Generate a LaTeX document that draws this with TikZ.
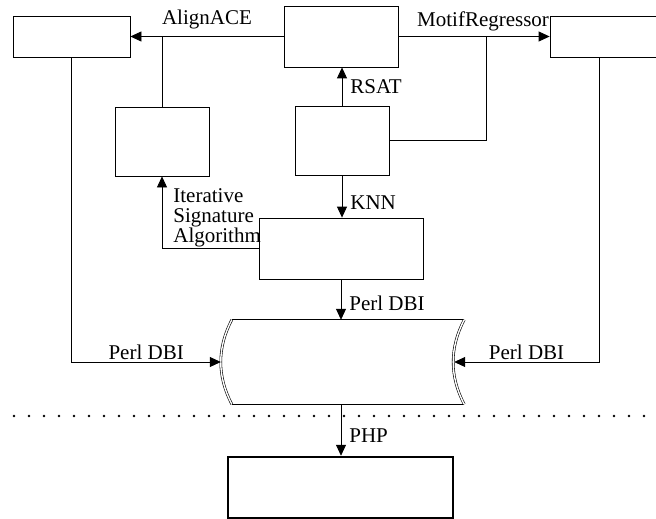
\documentclass[tikz,border=0pt]{standalone}
\usepackage{fontspec}
\setmainfont{Liberation Serif}
\usetikzlibrary{arrows.meta,calc}
\begin{document}
\begin{tikzpicture}[x=1pt, y=-1pt, >={Triangle[length=11pt,width=10pt]},
        box/.style={draw, line width=0.8pt, inner sep=0pt},
        link/.style={line width=0.8pt},
        tag/.style={font=\fontsize{21}{20}\selectfont, inner sep=2pt},
        tagr/.style={tag, right, xshift=6pt}]
    \useasboundingbox (0,0) rectangle (656,519);
    \node[box, minimum width=117pt, minimum height=41pt] (alignout) at (71.5,36.5) {};
    \node[box, minimum width=114pt, minimum height=61pt] (motifs) at (341,36.5) {};
    \node[box, minimum width=117pt, minimum height=41pt] (regout) at (608.5,36.5) {};
    \node[box, minimum width=94pt, minimum height=69pt] (modules) at (162,141.5) {};
    \node[box, minimum width=94pt, minimum height=69pt] (expr) at (342,140.5) {};
    \node[box, minimum width=164pt, minimum height=61pt] (knn) at (341,248.5) {};
    \node[minimum width=232pt, minimum height=84pt, inner sep=0pt] (db) at (348,362) {};
    \node[box, line width=2.5pt, minimum width=225pt, minimum height=61pt] (web) at (340.5,487.5) {};
    % database outline
    \draw[link] (db.north west) -- (db.north east);
    \draw[link] (db.south west) -- (db.south east);
    \draw[line width=0.6pt, double, double distance=1.4pt] (db.north west) .. controls ($(db.north west)+(-14.7,28)$) and ($(db.south west)+(-14.7,-28)$) .. (db.south west);
    \draw[line width=0.6pt, double, double distance=1.4pt] (db.north east) .. controls ($(db.north east)+(-14.7,28)$) and ($(db.south east)+(-14.7,-28)$) .. (db.south east);
    \coordinate (dbin) at ($(db.west)+(-11,0)$);
    \coordinate (dbout) at ($(db.east)+(-10,0)$);
    \coordinate (join) at (486,36.5);
    \coordinate (regdrop) at ($(regout.south)+(-9.5,0)$);
    % connectors
    \draw[link, ->] (motifs.west) -- node[tag, above, yshift=5pt]{AlignACE} (alignout.east);
    \draw[link] (modules.north) -- (modules.north |- motifs.west);
    \draw[link, ->] (motifs.east) -- node[tag, above, pos=0.56, yshift=3pt]{MotifRegressor} (regout.west);
    \draw[link] (expr.east) -| (join);
    \draw[link, ->] (expr.north) -- node[tagr]{RSAT} (expr.north |- motifs.south);
    \draw[link, ->] (expr.south) -- node[tagr, pos=0.65]{KNN} (expr.south |- knn.north);
    \draw[link, ->] (knn.west) -| node[tag, pos=1, anchor=north west, align=left, xshift=9pt, yshift=-10pt]{Iterative\\Signature\\Algorithm} (modules.south);
    \draw[link, ->] (knn.south) -- node[tagr, pos=0.6]{Perl DBI} (knn.south |- db.north);
    \draw[link, ->] (alignout.south) |- node[tag, above, pos=0.75]{Perl DBI} (dbin);
    \draw[link, ->] (regdrop) |- node[tag, above, pos=0.75]{Perl DBI} (dbout);
    \draw[link, ->] (knn.south |- db.south) -- node[tagr, pos=0.6]{PHP} (knn.south |- web.north);
    % tier separator
    \draw[line width=2.8pt, line cap=round, dash pattern=on 0pt off 15pt] (14,416) -- (652,416);
\end{tikzpicture}
\end{document}
